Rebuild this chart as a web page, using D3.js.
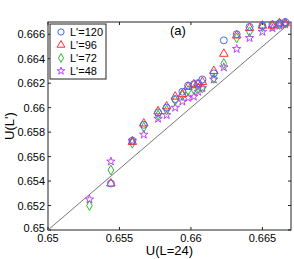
<!DOCTYPE html>
<html>
<head>
<meta charset="utf-8">
<script src="https://cdn.jsdelivr.net/npm/d3@7"></script>
<style>
  body { margin: 0; background: #fff; }
  svg { font-family: "Liberation Sans", Arial, sans-serif; }
</style>
</head>
<body>
<svg id="chart" width="294" height="259"></svg>
<script>
// x values: U(L=24)
let xVals = [0.6529, 0.6544, 0.6559, 0.6567, 0.6577, 0.6583, 0.6589, 0.6594, 0.6598, 0.6602,
             0.6605, 0.6608, 0.6616, 0.6623, 0.6632, 0.6641, 0.6650, 0.6657, 0.6662, 0.6666];
let l120 = [null, 0.6538, 0.6573, 0.6586, 0.6596, 0.6600, 0.6607, 0.6613, 0.6618, 0.6619,
            0.6620, 0.6623, 0.6628, 0.6655, 0.6660, 0.6666, 0.6667, 0.6668, 0.6669, 0.6670];
let l96  = [null, 0.6538, 0.6572, 0.6587, 0.6597, 0.6601, 0.6609, 0.6611, 0.6617, 0.6619,
            0.6619, 0.6621, 0.6630, 0.6644, 0.6659, 0.6665, 0.6667, 0.6667, 0.6669, 0.6669];
let l72  = [0.6520, 0.6549, 0.6571, 0.6584, 0.6594, 0.6598, 0.6606, 0.6610, 0.6614, 0.6615,
            0.6616, 0.6616, 0.6624, 0.6636, 0.6657, 0.6662, 0.6666, 0.6667, 0.6668, 0.6669];
let l48  = [0.6525, 0.6556, 0.6573, 0.6578, 0.6591, 0.6594, 0.6600, 0.6605, 0.6608, 0.6609,
            0.6613, 0.6616, 0.6623, 0.6633, 0.6648, 0.6657, 0.6662, 0.6665, 0.6667, 0.6668];

let seriesNames = ["L'=120", "L'=96", "L'=72", "L'=48"];
let seriesData = [l120, l96, l72, l48];
let colors = ["#4a63ff", "#ff2b2b", "#2fb52f", "#c040ff"];
let symbols = [d3.symbolCircle, d3.symbolTriangle, d3.symbolDiamond, d3.symbolStar];
let symSizes = [38, 32, 28, 22];

let xTicks = [0.65, 0.655, 0.66, 0.665];
let yTicks = [0.65, 0.652, 0.654, 0.656, 0.658, 0.66, 0.662, 0.664, 0.666];

let pLeft = 48, pRight = 291, pTop = 22, pBottom = 230;
let svg = d3.select("#chart");

let x = d3.scaleLinear().domain([0.65, 0.667]).range([pLeft, pRight]);
let y = d3.scaleLinear().domain([0.65, 0.667]).range([pBottom, pTop]);

let fmt = d => String(+d.toFixed(3));

// axis box
svg.append("rect").attr("x", pLeft).attr("y", pTop)
  .attr("width", pRight - pLeft).attr("height", pBottom - pTop)
  .attr("fill", "none").attr("stroke", "#222").attr("stroke-width", 1);

// ticks, inward on all four sides
let tl = 3;
xTicks.forEach(function(t) {
  svg.append("line").attr("x1", x(t)).attr("x2", x(t)).attr("y1", pBottom).attr("y2", pBottom - tl)
    .attr("stroke", "#222");
  svg.append("line").attr("x1", x(t)).attr("x2", x(t)).attr("y1", pTop).attr("y2", pTop + tl)
    .attr("stroke", "#222");
  svg.append("text").attr("x", x(t)).attr("y", pBottom + 12)
    .attr("text-anchor", "middle").style("font-size", "11px").text(fmt(t));
});
yTicks.forEach(function(t) {
  svg.append("line").attr("x1", pLeft).attr("x2", pLeft + tl).attr("y1", y(t)).attr("y2", y(t))
    .attr("stroke", "#222");
  svg.append("line").attr("x1", pRight).attr("x2", pRight - tl).attr("y1", y(t)).attr("y2", y(t))
    .attr("stroke", "#222");
  svg.append("text").attr("x", pLeft - 3).attr("y", y(t) + (t == 0.65 ? 2 : 4))
    .attr("text-anchor", "end").style("font-size", "11px").text(fmt(t));
});

// diagonal y = x
svg.append("line")
  .attr("x1", x(0.65)).attr("y1", y(0.65))
  .attr("x2", x(0.667)).attr("y2", y(0.667))
  .attr("stroke", "#777").attr("stroke-width", 1);

// markers (draw smaller L' last so they sit on top)
for (let s = seriesData.length - 1; s >= 0; s--) {
  let pts = xVals.map((v, i) => [v, seriesData[s][i]]).filter(p => p[1] != null);
  svg.append("g").selectAll("path").data(pts).enter().append("path")
    .attr("transform", d => "translate(" + x(d[0]) + "," + y(d[1]) + ")")
    .attr("d", d3.symbol().type(symbols[s]).size(symSizes[s]))
    .attr("fill", "none").attr("stroke", colors[s]).attr("stroke-width", 1);
}

// legend
let lg = svg.append("g");
lg.append("rect").attr("x", 50).attr("y", 24).attr("width", 56).attr("height", 55)
  .attr("fill", "#fff").attr("stroke", "#222").attr("stroke-width", 1);
seriesNames.forEach(function(n, i) {
  let ly = 32 + i * 13;
  lg.append("path").attr("transform", "translate(61," + ly + ")")
    .attr("d", d3.symbol().type(symbols[i]).size(symSizes[i] * 0.8))
    .attr("fill", "none").attr("stroke", colors[i]);
  lg.append("text").attr("x", 70).attr("y", ly + 4).style("font-size", "11px").text(n);
});

// annotations and labels
svg.append("text").attr("x", 170).attr("y", 35).style("font-size", "13px").text("(a)");
svg.append("text").attr("x", (pLeft + pRight) / 2).attr("y", 255)
  .attr("text-anchor", "middle").style("font-size", "13px").text("U(L=24)");
svg.append("text").attr("transform", "translate(14," + ((pTop + pBottom) / 2) + ") rotate(-90)")
  .attr("text-anchor", "middle").style("font-size", "13px").text("U(L')");
</script>
</body>
</html>
